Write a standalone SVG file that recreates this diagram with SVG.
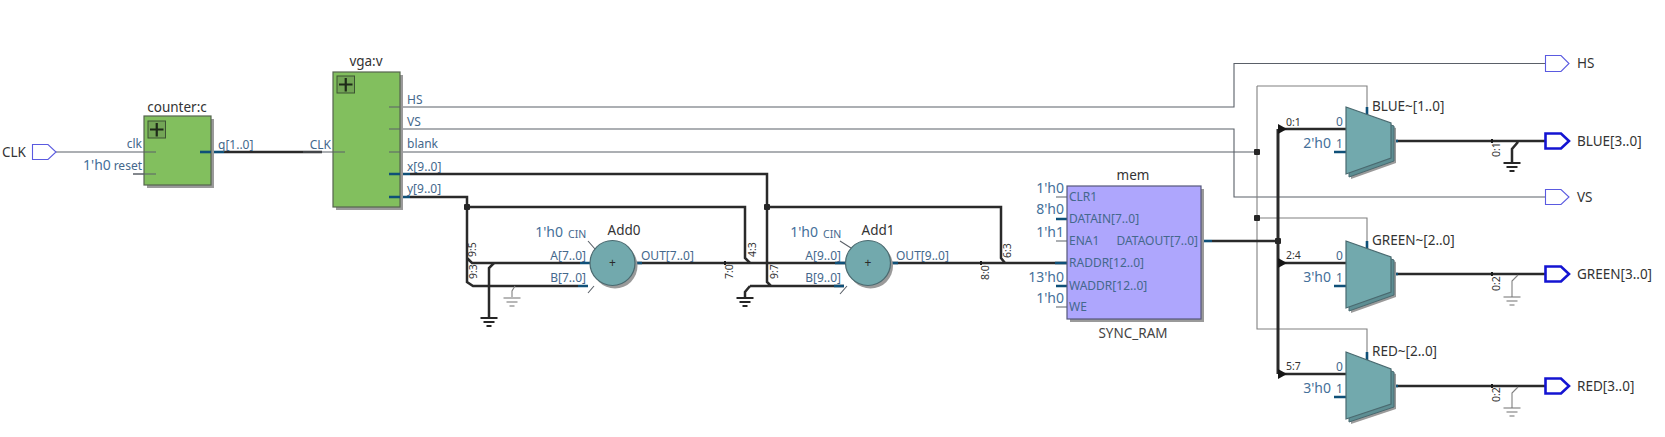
<svg xmlns="http://www.w3.org/2000/svg" width="1665" height="437" viewBox="0 0 1665 437">
<style>
text{font-family:"Noto Sans","Open Sans","DejaVu Sans",sans-serif;font-size:12px;fill:#44688c}
.d{fill:#2b2b2b}
.n{font-size:13.5px;fill:#333}
.c{font-size:14px;fill:#44709a}
.s{font-size:10.5px;fill:#333}
.m{text-anchor:middle}
.e{text-anchor:end}
.w{fill:none;stroke:#5a6068;stroke-width:1.1}
.g{fill:none;stroke:#808080;stroke-width:1.1}
.b{fill:none;stroke:#2a2a2a;stroke-width:2.5}
.t{fill:none;stroke:#0f5078;stroke-width:2.6}
.bb{fill:none;stroke:#2a2a2a;stroke-width:3}
.k{fill:none;stroke:#1c1c1c;stroke-width:2}
.box{stroke:#55644f;stroke-width:1.2}
.sh{fill:#9a9a9a}
.green{fill:#82bf5e}
.teal{fill:#72a9ad;stroke:#4a6a70;stroke-width:1.2}
.teal2{fill:#5d8e93;stroke:#4a6a70;stroke-width:1}
.pt{fill:#fff;stroke:#5a5ae0;stroke-width:1.1}
.pb{fill:#fff;stroke:#1414d2;stroke-width:2.6}
.plus{fill:none;stroke:#1e2a18;stroke-width:2.2}
.pbox{fill:#73a556;stroke:#3c5232;stroke-width:1}
</style>
<defs>
<path id="gt" d="M-8.500 0H8.500M-5.500 4H5.500M-2.500 8H2.500" fill="none" stroke="#707070" stroke-width="1.100"/>
<path id="gb" d="M-8.500 0H8.500M-5.500 4H5.500M-2.500 8H2.500" fill="none" stroke="#262626" stroke-width="2.200"/>
<polygon id="tri" points="0,-5 9,0 0,5" fill="#161616"/>
<rect id="dot" x="-3" y="-3" width="6" height="6" rx="1" fill="#262626"/>
</defs>

<g id="connectors">
<path class="w" d="M56 152H156M133 174H156"/>
<path class="b" d="M224 152H322"/><path class="t" d="M200 152H224"/>
<path class="w" d="M303 152H345"/>
<path class="w" d="M389 107H1234V63.500H1545M389 129H1234V197H1545M389 152H1257"/>
<path class="g" d="M1257 86V329H1367V352M1257 86H1367V107M1257 218H1367V241"/>
<path class="b" d="M410 174H767V282L771 286H844M750 286H771"/>
<path class="b" d="M410 197H467V282L473 286H578M467 258L472 263H580"/>
<path class="b" d="M467 207H745V258L750 263M767 207H1001V258L1005 263"/>
<path class="b" d="M635 263H1067"/>
<path class="b" d="M494 263L489 268V317M750 286L745 292V297"/>
<path class="t" d="M389 174H410M389 197H410M578 286H588M580 263H590M635 263H642M835 263H845M834 286H844M890 263H898M1055 263H1067M1056 219H1067M1056 286H1067"/>
<path class="w" d="M1056 197H1067M1056 241H1067M1056 307H1067M588 241L595 249M588 293L594 286M840 241L851 248M840 294L847 286"/>
<path class="b" d="M1212 241H1278"/><path class="t" d="M1201 241H1212"/>
<path class="bb" d="M1278 129V374"/>
<path class="b" d="M1278 129H1346M1278 263H1346M1278 374H1346"/>
<path class="t" d="M1334 152H1346M1334 286H1346M1334 397H1346M1367 107V115M1367 241V250M1367 352V360"/>
<path class="b" d="M1391 141H1545M1391 274H1545M1391 386H1545M1518 142L1512 149V163"/>
<path class="g" d="M1518 275L1512 281V297M1518 387L1512 393V408M515 286L512 291V297"/>
<path class="t" d="M1391 141H1398M1391 274H1398M1391 386H1398"/>
<use href="#dot" x="467" y="207"/><use href="#dot" x="767" y="207"/><use href="#dot" x="1257" y="152"/><use href="#dot" x="1257" y="218"/><use href="#dot" x="1278" y="241"/>
<use href="#tri" x="1278" y="129"/><use href="#tri" x="1278" y="263"/><use href="#tri" x="1278" y="374"/>
<use href="#gb" x="489" y="318"/><use href="#gb" x="745" y="298"/><use href="#gb" x="1512" y="163"/>
<use href="#gt" x="512" y="298"/><use href="#gt" x="1512" y="297"/><use href="#gt" x="1512" y="408"/>
<path class="k" d="M725 261V265M981 261V265M1492 139V143M1492 272V276M1492 384V388"/>
<text class="s" transform="translate(476 257) rotate(-90)">9:5</text>
<text class="s" transform="translate(477 279) rotate(-90)">9:3</text>
<text class="s" transform="translate(733 279) rotate(-90)">7:0</text>
<text class="s" transform="translate(756 257) rotate(-90)">4:3</text>
<text class="s" transform="translate(778 279) rotate(-90)">9:7</text>
<text class="s" transform="translate(989 280) rotate(-90)">8:0</text>
<text class="s" transform="translate(1011 258) rotate(-90)">6:3</text>
<text class="s" transform="translate(1500 157) rotate(-90)">0:1</text>
<text class="s" transform="translate(1500 291) rotate(-90)">0:2</text>
<text class="s" transform="translate(1500 402) rotate(-90)">0:2</text>
<text class="s" x="1286" y="126">0:1</text>
<text class="s" x="1286" y="259">2:4</text>
<text class="s" x="1286" y="370">5:7</text>
</g>

<g id="port-CLK"><path class="pt" d="M32.500 144.500H48L56 152L48 159.500H32.500Z"/><text class="n" x="2" y="156.500">CLK</text></g>

<g id="counter-c">
<rect class="sh" x="147" y="119" width="67" height="69"/>
<rect class="green box" x="144" y="116" width="67" height="69"/>
<rect class="pbox" x="148" y="121" width="17.500" height="17"/>
<path class="plus" d="M156.750 123V136.500M150 129.500H163.500"/>
<text class="n m" x="177" y="112">counter:c</text>
<text class="e" x="142" y="148">clk</text><text class="e" x="142" y="170">reset</text>
<text class="c" x="83" y="170">1'h0</text>
<text x="218" y="149">q[1..0]</text>
<path class="w" d="M133 174H156M144 152H156"/><path class="t" d="M200 152H211"/>
</g>

<g id="vga-v">
<rect class="sh" x="336" y="75" width="67" height="135"/>
<rect class="green box" x="333" y="72" width="67" height="135"/>
<rect class="pbox" x="337" y="76" width="17.500" height="17"/>
<path class="plus" d="M345.750 78V91.500M339 84.500H352.500"/>
<text class="n m" x="366" y="66">vga:v</text>
<text class="e" x="331" y="149">CLK</text>
<text x="407" y="104">HS</text><text x="407" y="126">VS</text><text x="407" y="148">blank</text><text x="407" y="171">x[9..0]</text><text x="407" y="193">y[9..0]</text>
<path class="w" d="M333 152H345M389 107H400M389 129H400M389 152H400"/><path class="t" d="M389 174H400M389 197H400"/>
</g>

<g id="Add0">
<circle class="sh" cx="615" cy="266" r="22.500"/>
<circle class="teal" cx="612.500" cy="263" r="22.500"/>
<text class="d m" x="612.500" y="267">+</text>
<text class="n m" x="624" y="235">Add0</text>
<text class="c e" x="563" y="237">1'h0</text>
<text x="568" y="238" style="font-size:10.500px">CIN</text>
<text class="e" x="586" y="260">A[7..0]</text><text class="e" x="586" y="282">B[7..0]</text>
<text x="641" y="260">OUT[7..0]</text>
</g>

<g id="Add1">
<circle class="sh" cx="870.500" cy="266" r="22.500"/>
<circle class="teal" cx="868" cy="263" r="22.500"/>
<text class="d m" x="868" y="267">+</text>
<text class="n m" x="878" y="235">Add1</text>
<text class="c e" x="818" y="237">1'h0</text>
<text x="823" y="238" style="font-size:10.500px">CIN</text>
<text class="e" x="841" y="260">A[9..0]</text><text class="e" x="841" y="282">B[9..0]</text>
<text x="896" y="260">OUT[9..0]</text>
</g>

<g id="mem">
<rect class="sh" x="1070" y="189" width="134" height="133"/>
<rect x="1067" y="186" width="134" height="133" fill="#aea6fd" stroke="#55587a" stroke-width="1.200"/>
<text class="n m" x="1133" y="180">mem</text>
<text class="n m" x="1133" y="338" style="fill:#444">SYNC_RAM</text>
<text x="1069" y="201">CLR1</text><text x="1069" y="223">DATAIN[7..0]</text><text x="1069" y="245">ENA1</text><text x="1069" y="267">RADDR[12..0]</text><text x="1069" y="290">WADDR[12..0]</text><text x="1069" y="311">WE</text>
<text class="e" x="1198" y="245">DATAOUT[7..0]</text>
<text class="c e" x="1064" y="193">1'h0</text><text class="c e" x="1064" y="214">8'h0</text><text class="c e" x="1064" y="237">1'h1</text><text class="c e" x="1064" y="282">13'h0</text><text class="c e" x="1064" y="303">1'h0</text>
</g>

<g id="mux-BLUE">
<polygon class="sh" points="1351,112 1396,128 1396,163 1351,179"/>
<polygon class="teal2" points="1349,110 1394,126 1394,161 1349,177"/>
<polygon class="teal" points="1346,107 1391,123 1391,158 1346,174"/>
<text class="n" x="1372" y="111">BLUE~[1..0]</text>
<text x="1336" y="126">0</text><text x="1336" y="148">1</text>
<text class="c e" x="1331" y="148">2'h0</text>
</g>
<g id="mux-GREEN">
<polygon class="sh" points="1351,246 1396,262 1396,297 1351,313"/>
<polygon class="teal2" points="1349,244 1394,260 1394,295 1349,311"/>
<polygon class="teal" points="1346,241 1391,257 1391,292 1346,308"/>
<text class="n" x="1372" y="245">GREEN~[2..0]</text>
<text x="1336" y="260">0</text><text x="1336" y="282">1</text>
<text class="c e" x="1331" y="282">3'h0</text>
</g>
<g id="mux-RED">
<polygon class="sh" points="1351,357 1396,374 1396,409 1351,424"/>
<polygon class="teal2" points="1349,355 1394,372 1394,407 1349,422"/>
<polygon class="teal" points="1346,352 1391,369 1391,404 1346,419"/>
<text class="n" x="1372" y="356">RED~[2..0]</text>
<text x="1336" y="371">0</text><text x="1336" y="393">1</text>
<text class="c e" x="1331" y="393">3'h0</text>
</g>

<g id="port-HS"><path class="pt" d="M1545.500 55.500H1561L1569 63.500L1561 71.500H1545.500Z"/><text class="n" x="1577" y="68">HS</text></g>
<g id="port-VS"><path class="pt" d="M1545.500 189.500H1561L1569 197L1561 204.500H1545.500Z"/><text class="n" x="1577" y="201.500">VS</text></g>
<g id="port-BLUE"><path class="pb" d="M1545.500 133.500H1561L1569 141L1561 148.500H1545.500Z"/><text class="n" x="1577" y="145.500">BLUE[3..0]</text></g>
<g id="port-GREEN"><path class="pb" d="M1545.500 266.500H1561L1569 274L1561 281.500H1545.500Z"/><text class="n" x="1577" y="278.500">GREEN[3..0]</text></g>
<g id="port-RED"><path class="pb" d="M1545.500 378.500H1561L1569 386L1561 393.500H1545.500Z"/><text class="n" x="1577" y="390.500">RED[3..0]</text></g>
</svg>
